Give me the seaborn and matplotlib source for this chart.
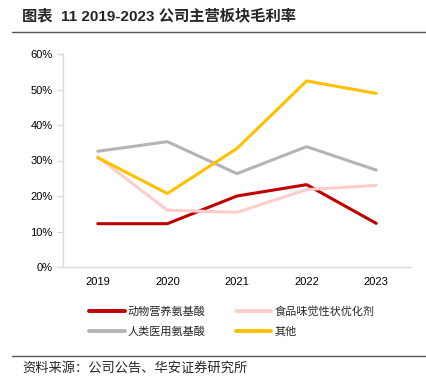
import matplotlib
matplotlib.use("Agg")
import matplotlib.pyplot as plt
import seaborn as sns
import pandas as pd
from matplotlib.lines import Line2D
from matplotlib.ticker import PercentFormatter

years = ["2019", "2020", "2021", "2022", "2023"]
animal = [12.2, 12.2, 20.0, 23.2, 12.3]
food = [31.0, 16.0, 15.4, 21.8, 23.0]
human = [32.6, 35.3, 26.3, 33.9, 27.3]
other = [30.8, 20.7, 33.4, 52.4, 48.9]
series_names = ["动物营养氨基酸", "食品味觉性状优化剂", "人类医用氨基酸", "其他"]
colors = ["#C00000", "#FFCCCC", "#B4B4B4", "#FFC000"]

sns.set_theme(style="white")
plt.rcParams['font.family'] = ['Liberation Sans', 'Noto Sans CJK SC', 'DejaVu Sans']

df = pd.DataFrame({
    "year": years * 4,
    "value": animal + food + human + other,
    "series": sum([[n] * len(years) for n in series_names], []),
})

fig = plt.figure(figsize=(4.27, 3.83), dpi=100)
ax = fig.add_axes([63/427, 1-267/383, (411-63)/427, (267-54)/383])

sns.lineplot(data=df, x="year", y="value", hue="series", hue_order=series_names,
             palette=colors, linewidth=2.2, ax=ax, legend=False, sort=False)

ax.set_xlim(-0.5, 4.5)
ax.set_ylim(0, 60)
ax.set_yticks(range(0, 61, 10))
ax.yaxis.set_major_formatter(PercentFormatter(decimals=0))
ax.set_xlabel("")
ax.set_ylabel("")
for s in ["top", "right"]:
    ax.spines[s].set_visible(False)
for s in ["left", "bottom"]:
    ax.spines[s].set_color("#D9D9D9")
    ax.spines[s].set_linewidth(1.0)
ax.set_xticks([-0.5, 0.5, 1.5, 2.5, 3.5, 4.5], minor=True)
ax.tick_params(axis="x", which="minor", length=4, color="#D9D9D9", width=1, direction="out")
ax.tick_params(axis="x", which="major", length=0, labelsize=8, pad=7, colors="#000000")
ax.tick_params(axis="y", which="major", length=4, color="#D9D9D9", width=1, labelsize=8, colors="#000000", left=True)

cjk = ['Noto Sans CJK SC', 'DejaVu Sans']
handles = [Line2D([0], [0], color=c, linewidth=2.8) for c in colors]
order = [0, 2, 1, 3]
fig.legend([handles[i] for i in order], [series_names[i] for i in order], loc="upper left",
           bbox_to_anchor=(79/427, 1-296/383), ncol=2, frameon=False, handlelength=3.2,
           handletextpad=0.3, columnspacing=2.7, labelspacing=0.85,
           prop={'family': cjk, 'size': 8})

fig.text(22/427, 1-16/383, "图表  11 2019-2023 公司主营板块毛利率", family=['Liberation Sans', 'Noto Sans CJK SC', 'DejaVu Sans'],
         fontsize=11, fontweight="bold", va="center", ha="left")
fig.add_artist(Line2D([12/427, 1.0], [1-32/383, 1-32/383], color="#555555", linewidth=1.0))
fig.add_artist(Line2D([12/427, 1.0], [1-356/383, 1-356/383], color="#555555", linewidth=1.0))
fig.text(22/427, 1-368/383, "资料来源：公司公告、华安证券研究所", family=cjk, fontsize=9.5,
         va="center", ha="left")

fig.savefig("out.png", dpi=100)
